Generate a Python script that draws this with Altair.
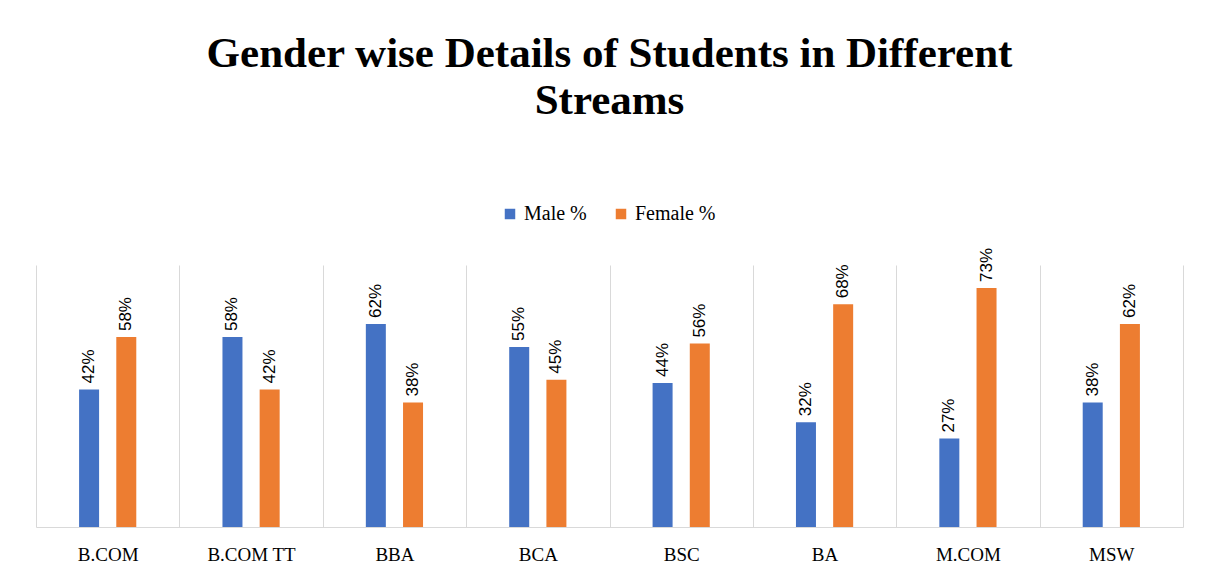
import altair as alt
import pandas as pd

categories = ["B.COM", "B.COM TT", "BBA", "BCA", "BSC", "BA", "M.COM", "MSW"]
male_pct = [42, 58, 62, 55, 44, 32, 27, 38]
female_pct = [58, 42, 38, 45, 56, 68, 73, 62]
series = ["Male %", "Female %"]
colors = ["#4472C4", "#ED7D31"]

rows = []
for c, m, f in zip(categories, male_pct, female_pct):
    rows.append({"cat": c, "series": series[0], "value": m})
    rows.append({"cat": c, "series": series[1], "value": f})
df = pd.DataFrame(rows)

x_enc = alt.X("cat:N", sort=categories, title=None,
              scale=alt.Scale(paddingInner=0, paddingOuter=0),
              axis=alt.Axis(labelAngle=0, ticks=False, labelPadding=18,
                            labelFont="Liberation Serif", labelFontSize=19,
                            labelColor="#000000", domainColor="#d9d9d9",
                            grid=True, gridColor="#d9d9d9", tickBand="extent"))
y_enc = alt.Y("value:Q", scale=alt.Scale(domain=[0, 80]), axis=None)
color_enc = alt.Color("series:N", sort=series,
                      scale=alt.Scale(domain=series, range=colors),
                      legend=alt.Legend(title=None, orient="none", direction="horizontal",
                                        legendX=464, legendY=-61,
                                        symbolType="square", symbolSize=110,
                                        symbolStrokeWidth=0,
                                        labelFont="Liberation Serif", labelFontSize=20,
                                        labelColor="#000000", columnPadding=24,
                                        labelOffset=4))

band_half = 1147 / 8 / 2
offsets = [band_half - 18.6, band_half + 18.6]
layers = []
for s, off in zip(series, offsets):
    base = alt.Chart(df).transform_filter(alt.datum.series == s).encode(
        x=x_enc, y=y_enc, xOffset=alt.value(off))
    layers.append(base.mark_bar(width=20).encode(color=color_enc))
    layers.append(
        base.mark_text(angle=270, align="left", baseline="middle", dx=6,
                       font="Liberation Sans", fontSize=17, color="#000000")
        .encode(text=alt.Text("label:N"))
        .transform_calculate(label="datum.value + '%'"))

chart = alt.layer(*layers).properties(
    width=1147, height=262,
    background="white",
    padding={"left": 28, "top": 25, "right": 10, "bottom": 10},
    title=alt.TitleParams(
        text=["Gender wise Details of Students in Different", "Streams"],
        font="Liberation Serif", fontSize=43, fontWeight="bold", color="#000000",
        lineHeight=47, anchor="middle", frame="group", offset=81),
).configure_view(stroke=None)

chart.save("out.html", embed_options={"renderer": "svg", "actions": False})
